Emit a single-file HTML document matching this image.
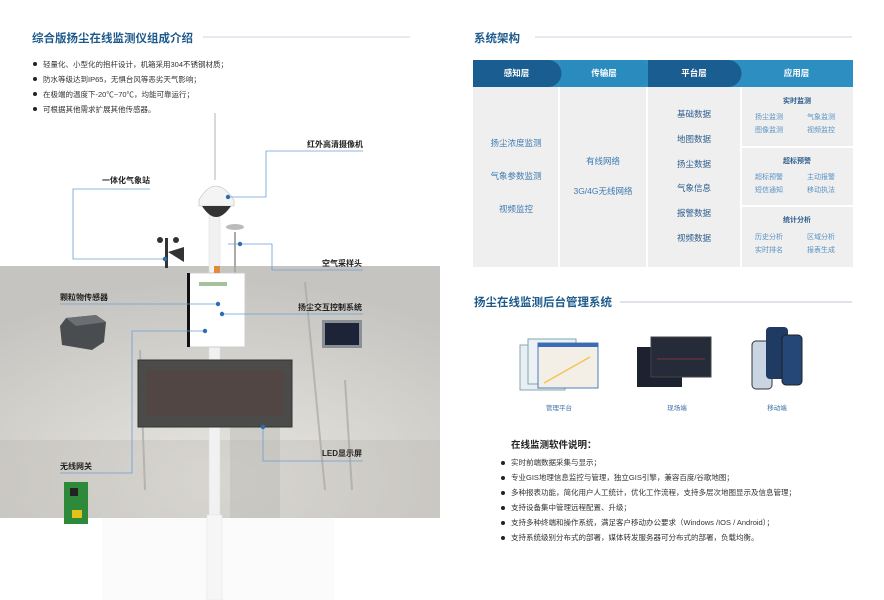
<!DOCTYPE html>
<html><head><meta charset="utf-8"><style>
*{margin:0;padding:0;box-sizing:border-box}
body{width:884px;height:600px;position:relative;background:#fff;overflow:hidden;font-family:"Liberation Sans","Noto Sans CJK SC",sans-serif;color:#333}
.a{position:absolute;white-space:nowrap}
.t{font-size:11.5px;font-weight:bold;color:#1d5a8c}
.b{font-size:7.5px;color:#333}
.lb{font-size:8px;font-weight:bold;color:#222}
.dot{position:absolute;width:4px;height:4px;border-radius:50%;background:#222}
.hd{position:absolute;top:60px;height:27px;color:#fff;font-size:8.5px;font-weight:bold;line-height:27px;text-align:center}
.c{position:absolute;text-align:center;font-size:8.5px;color:#3d7bb0}
.s{position:absolute;font-size:7px;color:#5a93c2}
.st{position:absolute;font-size:7px;font-weight:bold;color:#2c5d8c;text-align:center}
</style></head><body>
<svg class="a" style="left:0;top:0" width="884" height="600">
<defs><radialGradient id="g" cx="0.5" cy="0.85" r="0.8"><stop offset="0" stop-color="#e8e6e1"/><stop offset="1" stop-color="#c6c4c0"/></radialGradient></defs>
<rect x="0" y="266" width="440" height="252" fill="url(#g)"/>
<rect x="0" y="440" width="440" height="78" fill="#b9b7b3" opacity="0.35"/>
<path d="M230 520 L230 420 L280 410 L280 520Z" fill="#bdbbb6" opacity="0.5"/>
<g stroke="#aaa8a4" stroke-width="2" opacity="0.7"><line x1="305" y1="282" x2="325" y2="490"/><line x1="345" y1="380" x2="352" y2="490"/><line x1="140" y1="350" x2="145" y2="490"/></g>
<rect x="102" y="518" width="232" height="82" fill="#fbfbfb"/>
<line x1="203" y1="37" x2="410" y2="37" stroke="#cdd6e4" stroke-width="1"/>
<line x1="535" y1="37" x2="852" y2="37" stroke="#cdd6e4" stroke-width="1"/>
<line x1="620" y1="302" x2="852" y2="302" stroke="#dfe4ec" stroke-width="2"/>
<!-- pole -->
<line x1="215" y1="113" x2="215" y2="180" stroke="#ccc" stroke-width="1.5"/>
<rect x="209" y="215" width="11" height="385" fill="#f1f1f1" stroke="#ddd" stroke-width="0.5"/>
<rect x="207" y="515" width="15" height="85" fill="#f6f6f6" stroke="#e2e2e2" stroke-width="0.5"/>
<path d="M199 200 Q215 172 234 200 L234 206 L199 206Z" fill="#f4f4f4" stroke="#bbb" stroke-width="0.6"/>
<path d="M202 206 Q216 228 231 206Z" fill="#333"/>
<rect x="234" y="232" width="2" height="42" fill="#aaa"/>
<ellipse cx="235" cy="227" rx="9" ry="3" fill="#bbb"/>
<!-- weather station -->
<rect x="165" y="238" width="3" height="30" fill="#333"/><circle cx="160" cy="240" r="3" fill="#333"/><circle cx="176" cy="240" r="3" fill="#333"/><path d="M168 252 L184 247 L184 262Z" fill="#333"/>
<!-- box -->
<rect x="187" y="273" width="58" height="74" fill="#fff" stroke="#ccc"/><rect x="187" y="273" width="3" height="74" fill="#111"/>
<rect x="199" y="282" width="28" height="4" fill="#6a9a5a" opacity="0.6"/><rect x="214" y="266" width="6" height="7" fill="#e08a3a"/>
<rect x="322" y="320" width="40" height="28" fill="#8a8f94"/><rect x="325" y="323" width="34" height="22" fill="#1e2438"/>
<path d="M66 318 L96 315 L106 322 L104 342 L92 350 L62 345 L60 326Z" fill="#4a4d50"/><path d="M66 318 L96 315 L106 322 L76 326Z" fill="#6b6e72"/>
<rect x="138" y="360" width="154" height="67" fill="#4b4b49" stroke="#333"/>
<rect x="146" y="370" width="138" height="46" fill="#524543" opacity="0.8"/>
<rect x="64" y="482" width="24" height="42" fill="#2e8a3a"/><rect x="70" y="488" width="8" height="8" fill="#222"/><rect x="72" y="510" width="10" height="8" fill="#e3c21b"/>
<!-- connectors -->
<g stroke="#6c9fd2" stroke-width="0.8" fill="none">
<polyline points="363,151 266,151 266,197 228,197"/>
<polyline points="150,189 73,189 73,259 165,259"/>
<polyline points="228,244 272,244 272,270 363,270"/>
<polyline points="60,304 218,304"/>
<polyline points="222,314 363,314"/>
<polyline points="60,473 132,473 132,331 205,331"/>
<polyline points="263,427 263,461 363,461"/>
</g>
<g fill="#2a6db4"><circle cx="228" cy="197" r="2.2"/><circle cx="165" cy="259" r="2.2"/><circle cx="240" cy="244" r="2.2"/><circle cx="218" cy="304" r="2.2"/><circle cx="222" cy="314" r="2.2"/><circle cx="205" cy="331" r="2.2"/><circle cx="263" cy="427" r="2.2"/></g>
<!-- right images -->
<g transform="translate(520,335)"><rect x="0" y="10" width="45" height="45" fill="#e9eef5" stroke="#8aa"/><rect x="8" y="4" width="48" height="45" fill="#edf1f6" stroke="#7aa"/><rect x="18" y="8" width="60" height="45" fill="#f3efe6" stroke="#4b7bbd"/><rect x="18" y="8" width="60" height="4" fill="#3a6db4"/><path d="M24 48 L70 22" stroke="#f1c557" stroke-width="1.5"/></g>
<g transform="translate(637,337)"><rect x="0" y="10" width="45" height="40" fill="#1c2230"/><rect x="14" y="0" width="60" height="40" fill="#252b38" stroke="#444"/><path d="M20 22 L68 22" stroke="#c44" stroke-width="0.5"/></g>
<g transform="translate(752,323)"><rect x="0" y="18" width="20" height="48" rx="4" fill="#c9d5e3" stroke="#333"/><rect x="14" y="4" width="22" height="52" rx="4" fill="#1f3a63"/><rect x="30" y="12" width="20" height="50" rx="4" fill="#254778" stroke="#222"/></g>
<!-- arch -->
<rect x="473" y="87" width="380" height="180" fill="#efefef"/>
<g stroke="#fff" stroke-width="2"><line x1="559" y1="87" x2="559" y2="267"/><line x1="647" y1="87" x2="647" y2="267"/><line x1="741" y1="87" x2="741" y2="267"/><line x1="741" y1="147" x2="853" y2="147"/><line x1="741" y1="206" x2="853" y2="206"/></g>
<rect x="473" y="60" width="380" height="27" fill="#2d8ec2"/>
<path d="M560 60 H636 A13 13 0 0 1 636 87 H560Z" fill="#2a8bbf"/>
<path d="M648 60 H728 A13 13 0 0 1 728 87 H648Z" fill="#1a5d90"/>
<path d="M473 60 H548 A13 13 0 0 1 548 87 H473Z" fill="#1a5d90"/>
</svg>

<div class="a t" style="left:32px;top:30px">综合版扬尘在线监测仪组成介绍</div>
<div class="dot" style="left:33px;top:62px"></div><div class="a b" style="left:43px;top:59px">轻量化、小型化的抱杆设计，机箱采用304不锈钢材质；</div>
<div class="dot" style="left:33px;top:77px"></div><div class="a b" style="left:43px;top:74px">防水等级达到IP65，无惧台风等恶劣天气影响；</div>
<div class="dot" style="left:33px;top:92px"></div><div class="a b" style="left:43px;top:89px">在极端的温度下-20℃~70℃，均能可靠运行；</div>
<div class="dot" style="left:33px;top:107px"></div><div class="a b" style="left:43px;top:104px">可根据其他需求扩展其他传感器。</div>

<div class="a lb" style="left:307px;top:139px">红外高清摄像机</div>
<div class="a lb" style="left:102px;top:175px">一体化气象站</div>
<div class="a lb" style="left:322px;top:258px">空气采样头</div>
<div class="a lb" style="left:60px;top:292px">颗粒物传感器</div>
<div class="a lb" style="left:298px;top:302px">扬尘交互控制系统</div>
<div class="a lb" style="left:60px;top:461px">无线网关</div>
<div class="a lb" style="left:322px;top:448px">LED显示屏</div>

<div class="a t" style="left:474px;top:30px">系统架构</div>
<div class="hd" style="left:473px;width:87px">感知层</div>
<div class="hd" style="left:560px;width:88px">传输层</div>
<div class="hd" style="left:648px;width:92px">平台层</div>
<div class="hd" style="left:740px;width:113px">应用层</div>

<div class="c" style="left:473px;width:86px;top:137px">扬尘浓度监测</div>
<div class="c" style="left:473px;width:86px;top:170px">气象参数监测</div>
<div class="c" style="left:473px;width:86px;top:203px">视频监控</div>
<div class="c" style="left:559px;width:88px;top:155px">有线网络</div>
<div class="c" style="left:559px;width:88px;top:185px">3G/4G无线网络</div>
<div class="c" style="left:647px;width:94px;top:108px;color:#2c5d8c">基础数据</div>
<div class="c" style="left:647px;width:94px;top:133px;color:#2c5d8c">地图数据</div>
<div class="c" style="left:647px;width:94px;top:158px;color:#2c5d8c">扬尘数据</div>
<div class="c" style="left:647px;width:94px;top:182px;color:#2c5d8c">气象信息</div>
<div class="c" style="left:647px;width:94px;top:207px;color:#2c5d8c">报警数据</div>
<div class="c" style="left:647px;width:94px;top:232px;color:#2c5d8c">视频数据</div>

<div class="st" style="left:741px;width:112px;top:96px">实时监测</div>
<div class="s" style="left:755px;top:112px">扬尘监测</div><div class="s" style="left:807px;top:112px">气象监测</div>
<div class="s" style="left:755px;top:125px">图像监测</div><div class="s" style="left:807px;top:125px">视频监控</div>
<div class="st" style="left:741px;width:112px;top:156px">超标预警</div>
<div class="s" style="left:755px;top:172px">超标预警</div><div class="s" style="left:807px;top:172px">主动报警</div>
<div class="s" style="left:755px;top:185px">短信通知</div><div class="s" style="left:807px;top:185px">移动执法</div>
<div class="st" style="left:741px;width:112px;top:215px">统计分析</div>
<div class="s" style="left:755px;top:232px">历史分析</div><div class="s" style="left:807px;top:232px">区域分析</div>
<div class="s" style="left:755px;top:245px">实时排名</div><div class="s" style="left:807px;top:245px">报表生成</div>

<div class="a t" style="left:474px;top:294px">扬尘在线监测后台管理系统</div>
<div class="a" style="left:539px;width:40px;text-align:center;top:402px;font-size:6.5px;color:#3d6fa8">管理平台</div>
<div class="a" style="left:657px;width:40px;text-align:center;top:402px;font-size:6.5px;color:#3d6fa8">现场端</div>
<div class="a" style="left:757px;width:40px;text-align:center;top:402px;font-size:6.5px;color:#3d6fa8">移动端</div>

<div class="a" style="left:511px;top:437px;font-size:9.5px;font-weight:bold;color:#222">在线监测软件说明：</div>
<div class="dot" style="left:501px;top:461px"></div><div class="a b" style="left:511px;top:457px">实时前端数据采集与显示；</div>
<div class="dot" style="left:501px;top:476px"></div><div class="a b" style="left:511px;top:472px">专业GIS地理信息监控与管理，独立GIS引擎，兼容百度/谷歌地图；</div>
<div class="dot" style="left:501px;top:491px"></div><div class="a b" style="left:511px;top:487px">多种报表功能，简化用户人工统计，优化工作流程，支持多层次地图显示及信息管理；</div>
<div class="dot" style="left:501px;top:506px"></div><div class="a b" style="left:511px;top:502px">支持设备集中管理远程配置、升级；</div>
<div class="dot" style="left:501px;top:521px"></div><div class="a b" style="left:511px;top:517px">支持多种终端和操作系统，满足客户移动办公要求（Windows /IOS / Android）；</div>
<div class="dot" style="left:501px;top:536px"></div><div class="a b" style="left:511px;top:532px">支持系统级别分布式的部署，媒体转发服务器可分布式的部署，负载均衡。</div>
</body></html>
